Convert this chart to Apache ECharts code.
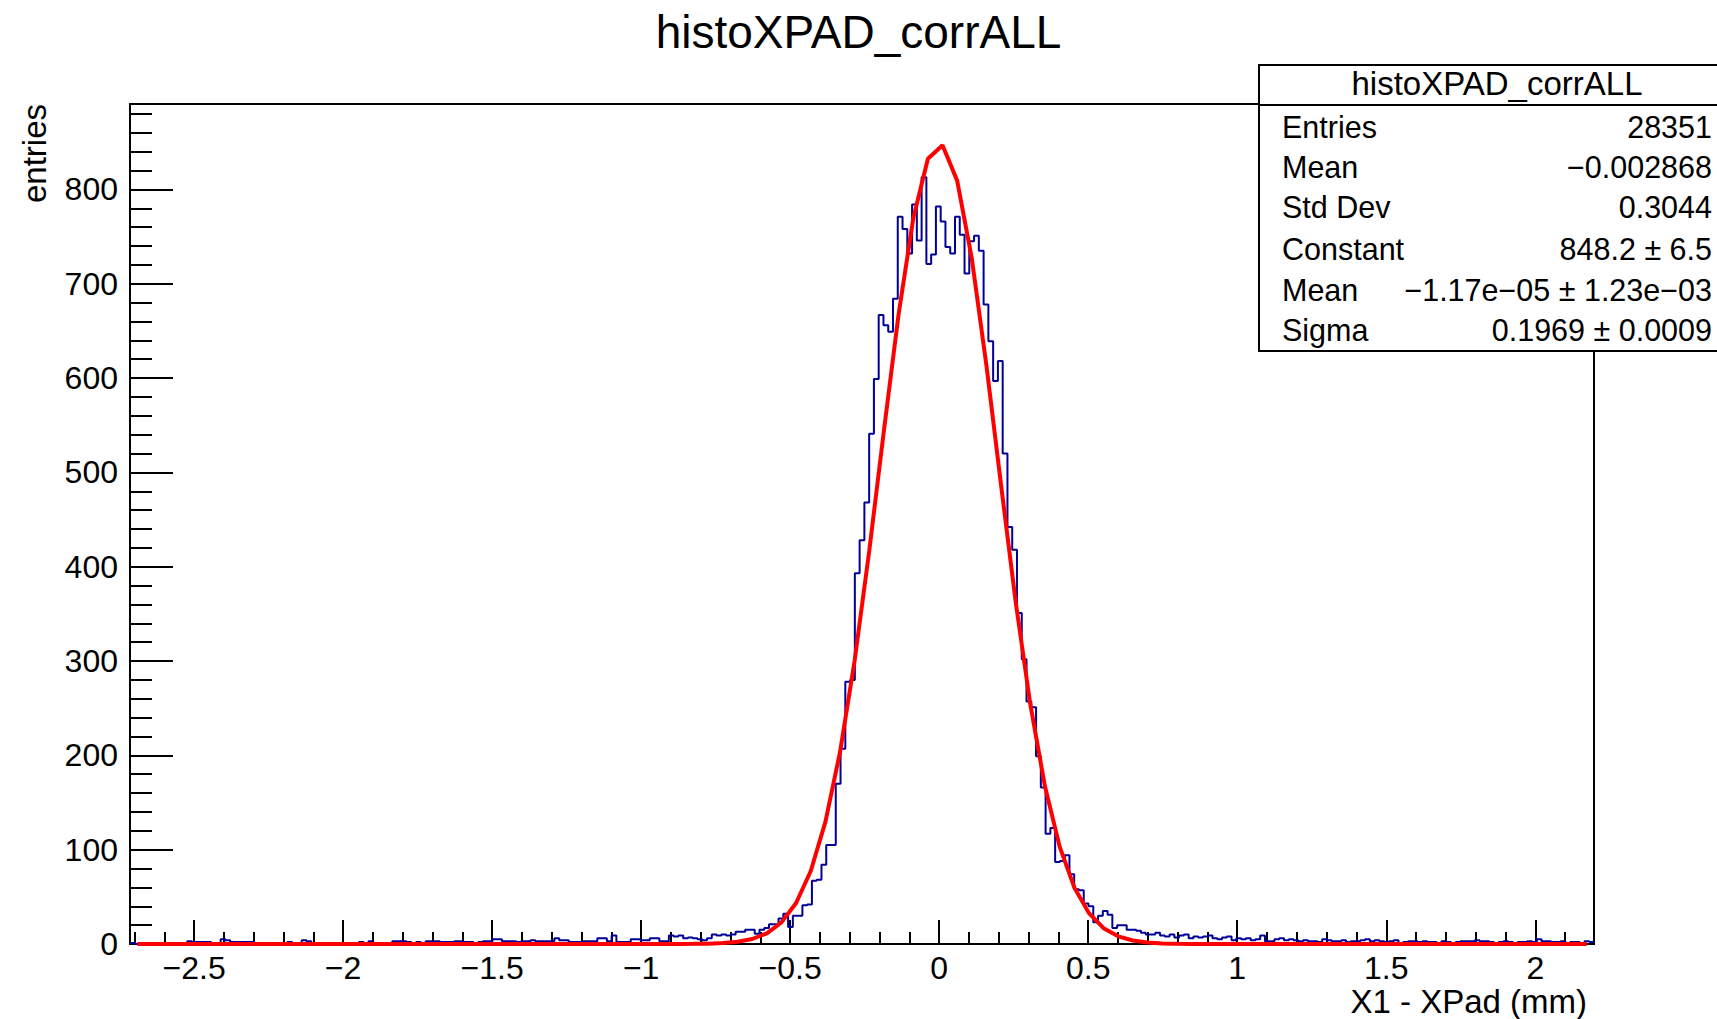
<!DOCTYPE html>
<html><head><meta charset="utf-8">
<script src="https://cdn.jsdelivr.net/npm/echarts@6/dist/echarts.min.js"></script>
<style>html,body{margin:0;padding:0;background:#fff}#c{width:1717px;height:1019px}</style>
</head><body><div id="c"></div>
<script>
// ---------------- data ----------------
const chartTitle = 'histoXPAD_corrALL';
const xAxisTitle = 'X1 - XPad (mm)';
const yAxisTitle = 'entries';
const xMin = -2.715;          // histogram low edge
const binWidth = 0.016;       // histogram bin width
const nBins = 307;
const yMax = 890.6;           // 1.05 x fit maximum (ROOT auto range)

// bins 0-119 (x from -2.715 to -0.795)
const leftTail = [
  1,0,0,0,1,0,0,0,1,0,0,1,
  3,2,2,2,2,1,1,5,4,2,2,2,
  2,2,1,0,0,1,0,0,1,2,0,1,
  4,3,1,0,0,1,0,1,1,0,1,0,
  2,1,3,1,1,0,1,3,3,3,2,1,
  2,1,3,3,3,2,2,2,3,3,2,2,
  1,2,3,3,5,5,3,3,3,2,3,3,
  4,3,3,3,3,6,4,4,2,2,2,3,
  3,3,6,6,3,9,2,2,2,5,5,4,
  4,6,6,3,3,9,8,9,6,7,6,5
];
// bins 120-210 (x from -0.795 to 0.661)
const peak = [
  4,6,10,9,10,9,10,13,13,15,
  15,11,15,17,21,21,27,32,18,30,
  30,41,42,67,68,84,105,105,170,207,
  278,280,393,428,468,541,599,667,656,649,
  684,771,758,732,784,746,813,721,731,782,
  766,739,732,771,752,711,745,751,735,678,
  639,597,618,520,442,418,351,302,257,251,
  199,166,117,123,87,88,94,74,58,57,
  43,40,23,30,35,31,17,20,20,15,
  15
];
// bins 211-306 (x from 0.661 to 2.197)
const rightTail = [
  14,12,10,10,12,9,8,10,7,9,10,6,
  8,7,8,9,6,5,7,8,4,6,5,6,
  4,5,9,3,3,5,6,4,5,4,3,4,
  3,3,2,5,4,3,3,4,2,3,3,4,
  5,3,4,3,2,3,4,1,2,3,3,2,
  3,2,2,1,3,2,1,2,3,3,3,4,
  3,3,2,1,2,3,2,1,2,2,3,2,
  5,3,3,2,2,3,1,2,2,1,3,2
];
const binCounts = leftTail.concat(peak, rightTail);

// Gaussian fit parameters shown in the stats box: Constant, Mean, Sigma
const fitParams = [848.2, -1.17e-5, 0.1969];
const fitPoints = 100;   // ROOT TF1 default npx

const xMajorTicks = [-2.5,-2,-1.5,-1,-0.5,0,0.5,1,1.5,2];
const xMinorTicks = [-2.7,-2.6,-2.4,-2.3,-2.2,-2.1,-1.9,-1.8,-1.7,-1.6,-1.4,-1.3,-1.2,-1.1,
  -0.9,-0.8,-0.7,-0.6,-0.4,-0.3,-0.2,-0.1,0.1,0.2,0.3,0.4,0.6,0.7,0.8,0.9,
  1.1,1.2,1.3,1.4,1.6,1.7,1.8,1.9,2.1];
const yMajorTicks = [0,100,200,300,400,500,600,700,800];
const yMinorTicks = [20,40,60,80,120,140,160,180,220,240,260,280,320,340,360,380,
  420,440,460,480,520,540,560,580,620,640,660,680,720,740,760,780,820,840,860,880];

const statsTitle = 'histoXPAD_corrALL';
const statLabels = ['Entries','Mean','Std Dev','Constant','Mean','Sigma'];
const statValues = ['28351','\u22120.002868','0.3044','848.2 \u00b1 6.5',
  '\u22121.17e\u221205 \u00b1 1.23e\u221203','0.1969 \u00b1 0.0009'];

// ---------------- chart ----------------
const xMax = xMin + nBins * binWidth;
const histData = binCounts.map((v, i) => [xMin + i * binWidth, v]);
histData.push([xMax, binCounts[binCounts.length - 1]]);

const fitData = [];
const dxFit = (xMax - xMin) / fitPoints;
for (let i = 0; i < fitPoints; i++) {
  const x = xMin + (i + 0.5) * dxFit;
  const t = (x - fitParams[1]) / fitParams[2];
  fitData.push([x, fitParams[0] * Math.exp(-0.5 * t * t)]);
}

const FONT = 'Liberation Sans, Arial, Helvetica, sans-serif';
const minus = v => String(v).replace('-', '\u2212');
const G = {left: 130, top: 104, width: 1464, height: 840};

const chart = echarts.init(document.getElementById('c'), null, {renderer: 'svg', width: 1717, height: 1019});

const statsGraphics = [
  {type: 'rect', z: 100, shape: {x: 1259, y: 65, width: 480, height: 286},
   style: {fill: '#fff', stroke: '#000', lineWidth: 2}},
  {type: 'line', z: 101, shape: {x1: 1259, y1: 105, x2: 1740, y2: 105},
   style: {stroke: '#000', lineWidth: 2}},
  {type: 'text', z: 101, x: 1497, y: 83,
   style: {text: statsTitle, fontSize: 33, fontFamily: FONT, fill: '#000', align: 'center', verticalAlign: 'middle'}}
];
const rowY = [127, 167, 207, 249, 290, 330];
statLabels.forEach((lab, i) => {
  statsGraphics.push({type: 'text', z: 101, x: 1282, y: rowY[i],
    style: {text: lab, fontSize: 30.5, fontFamily: FONT, fill: '#000', align: 'left', verticalAlign: 'middle'}});
  statsGraphics.push({type: 'text', z: 101, x: 1712, y: rowY[i],
    style: {text: statValues[i], fontSize: 30.5, fontFamily: FONT, fill: '#000', align: 'right', verticalAlign: 'middle'}});
});

const option = {
  animation: false,
  backgroundColor: '#fff',
  grid: Object.assign({show: true, borderColor: '#000', borderWidth: 2, backgroundColor: 'transparent', containLabel: false}, G),
  xAxis: [
    {type: 'value', min: xMin, max: xMax, position: 'bottom',
     axisLine: {show: true, onZero: false, lineStyle: {color: '#000', width: 2}},
     axisTick: {show: true, inside: true, length: 24, customValues: xMajorTicks, lineStyle: {color: '#000', width: 2}},
     axisLabel: {show: true, customValues: xMajorTicks, margin: 12, lineHeight: 24, fontSize: 32, fontFamily: FONT, color: '#000', formatter: minus},
     splitLine: {show: false}},
    {type: 'value', min: xMin, max: xMax, position: 'bottom',
     axisLine: {show: false, onZero: false},
     axisTick: {show: true, inside: true, length: 12, customValues: xMinorTicks, lineStyle: {color: '#000', width: 2}},
     axisLabel: {show: false},
     splitLine: {show: false}}
  ],
  yAxis: [
    {type: 'value', min: 0, max: yMax, position: 'left',
     axisLine: {show: true, onZero: false, lineStyle: {color: '#000', width: 2}},
     axisTick: {show: true, inside: true, length: 43, customValues: yMajorTicks, lineStyle: {color: '#000', width: 2}},
     axisLabel: {show: true, customValues: yMajorTicks, margin: 12, fontSize: 32, fontFamily: FONT, color: '#000'},
     splitLine: {show: false}},
    {type: 'value', min: 0, max: yMax, position: 'left',
     axisLine: {show: false, onZero: false},
     axisTick: {show: true, inside: true, length: 22, customValues: yMinorTicks, lineStyle: {color: '#000', width: 2}},
     axisLabel: {show: false},
     splitLine: {show: false}}
  ],
  series: [
    {type: 'line', name: 'hist', xAxisIndex: 0, yAxisIndex: 0, data: histData, step: 'end',
     symbol: 'none', clip: true, lineStyle: {color: '#000099', width: 2}, z: 3},
    {type: 'line', name: 'fit', xAxisIndex: 0, yAxisIndex: 0, data: fitData,
     symbol: 'none', smooth: false, clip: true, lineStyle: {color: '#ff0000', width: 4}, z: 4}
  ],
  graphic: [
    {type: 'text', x: 858.5, y: 32, z: 50,
     style: {text: chartTitle, fontSize: 46, fontFamily: FONT, fill: '#000', align: 'center', verticalAlign: 'middle'}},
    {type: 'text', x: 1587, y: 1001, z: 50,
     style: {text: xAxisTitle, fontSize: 33, lineHeight: 26, fontFamily: FONT, fill: '#000', align: 'right', verticalAlign: 'middle'}},
    {type: 'text', x: 34, y: 104, z: 50, rotation: Math.PI / 2,
     style: {text: yAxisTitle, fontSize: 33, fontFamily: FONT, fill: '#000', align: 'right', verticalAlign: 'middle'}}
  ].concat(statsGraphics)
};
chart.setOption(option);
</script>
</body></html>
